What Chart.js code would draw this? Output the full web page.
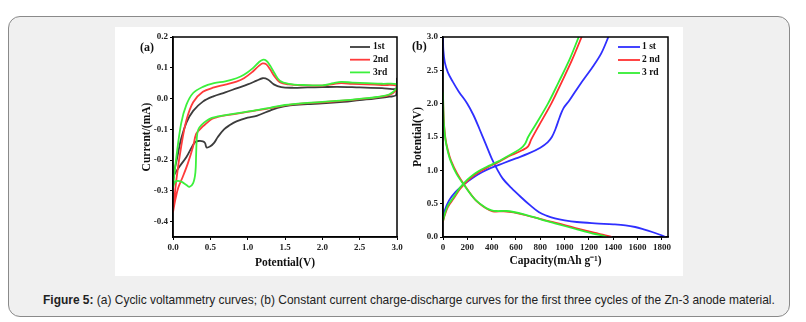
<!DOCTYPE html>
<html>
<head>
<meta charset="utf-8">
<script src="https://cdn.jsdelivr.net/npm/chart.js@4.4.1/dist/chart.umd.min.js"></script>
<style>
  body { margin: 0; background: #fff; width: 806px; height: 322px; overflow: hidden; }
  .figure {
    position: absolute; left: 8px; top: 16px; width: 782px; height: 301px;
    box-sizing: border-box; border: 1px solid #8a8a8a; border-radius: 12px; background: #f0f0f0;
  }
  .plate { position: absolute; left: 115px; top: 27px; width: 568px; height: 249px; background: #fff; }
  canvas { position: absolute; top: 27px; }
  #cv { left: 115px; }
  #gcd { left: 410px; }
  .caption {
    position: absolute; left: 43px; top: 292px; white-space: nowrap;
    font-family: "Liberation Sans", Arial, sans-serif; font-size: 13px; color: #222;
    transform: scaleX(0.92); transform-origin: 0 0;
  }
</style>
</head>
<body>
<div class="figure"></div>
<div class="plate"></div>
<canvas id="cv" width="295" height="249"></canvas>
<canvas id="gcd" width="273" height="249"></canvas>
<div class="caption"><b>Figure 5:</b> (a) Cyclic voltammetry curves; (b) Constant current charge-discharge curves for the first three cycles of the Zn-3 anode material.</div>
<script>
// (a) cyclic voltammetry: [potential V, current mA], anodic sweep 0 -> 3 V then cathodic 3 -> 0 V
const cv1st = [
  [0, -0.253], [0.045, -0.205], [0.11, -0.13], [0.18, -0.078], [0.27, -0.04], [0.4, -0.01],
  [0.54, 0.007], [0.7, 0.02], [0.85, 0.033], [1.0, 0.046], [1.12, 0.058], [1.2, 0.066],
  [1.27, 0.062], [1.35, 0.046], [1.45, 0.037], [1.6, 0.035], [1.8, 0.036], [2.0, 0.037],
  [2.2, 0.038], [2.5, 0.036], [2.8, 0.034], [2.99, 0.033], [3.0, 0.065],
  [2.99, 0.012], [2.9, 0.006], [2.7, 0.0], [2.5, -0.005], [2.28, -0.011], [2.0, -0.016],
  [1.8, -0.018], [1.57, -0.022], [1.4, -0.03], [1.3, -0.039], [1.12, -0.056], [1.0, -0.062],
  [0.85, -0.074], [0.75, -0.088], [0.68, -0.101], [0.6, -0.125], [0.55, -0.144], [0.5, -0.155],
  [0.45, -0.159], [0.43, -0.145], [0.4, -0.139], [0.34, -0.138], [0.3, -0.141], [0.27, -0.15],
  [0.18, -0.19], [0.09, -0.22], [0, -0.253]
];
const cv2nd = [
  [0, -0.37], [0.045, -0.264], [0.11, -0.155], [0.18, -0.07], [0.27, -0.012], [0.4, 0.022],
  [0.55, 0.036], [0.7, 0.045], [0.85, 0.055], [0.95, 0.066], [1.07, 0.088], [1.15, 0.106],
  [1.2, 0.114], [1.25, 0.111], [1.3, 0.095], [1.36, 0.072], [1.43, 0.053], [1.55, 0.046],
  [1.75, 0.043], [2.0, 0.042], [2.15, 0.047], [2.25, 0.05], [2.4, 0.048], [2.6, 0.046],
  [2.8, 0.044], [3.0, 0.042],
  [3.0, 0.03], [2.9, 0.012], [2.73, 0.004], [2.5, -0.002], [2.28, -0.007], [2.0, -0.012],
  [1.8, -0.015], [1.5, -0.022], [1.3, -0.031], [1.16, -0.037], [0.94, -0.046], [0.72, -0.054],
  [0.6, -0.06], [0.52, -0.066], [0.45, -0.08], [0.4, -0.09], [0.36, -0.1], [0.31, -0.115],
  [0.27, -0.155], [0.2, -0.21], [0.13, -0.255], [0.07, -0.29], [0.03, -0.33], [0, -0.37]
];
const cv3rd = [
  [0, -0.29], [0.045, -0.19], [0.11, -0.08], [0.18, -0.02], [0.27, 0.018], [0.4, 0.038],
  [0.55, 0.05], [0.7, 0.056], [0.85, 0.066], [0.95, 0.077], [1.07, 0.099], [1.15, 0.118],
  [1.2, 0.126], [1.25, 0.123], [1.3, 0.107], [1.36, 0.082], [1.43, 0.058], [1.55, 0.048],
  [1.75, 0.044], [2.0, 0.043], [2.15, 0.05], [2.25, 0.054], [2.4, 0.052], [2.6, 0.05],
  [2.8, 0.048], [3.0, 0.047],
  [3.0, 0.035], [2.9, 0.014], [2.73, 0.005], [2.5, -0.001], [2.28, -0.006], [2.0, -0.011],
  [1.8, -0.014], [1.5, -0.021], [1.3, -0.03], [1.16, -0.036], [0.94, -0.045], [0.72, -0.053],
  [0.6, -0.058], [0.52, -0.063], [0.45, -0.072], [0.38, -0.086], [0.34, -0.1], [0.32, -0.125],
  [0.31, -0.18], [0.3, -0.24], [0.27, -0.275], [0.22, -0.287], [0.18, -0.281], [0.11, -0.27],
  [0.05, -0.268], [0.02, -0.275], [0, -0.29]
];

// (b) galvanostatic curves: [capacity mAh/g, potential V]
const dis1st = [
  [0, 3.0], [3, 2.8], [15, 2.62], [40, 2.47], [80, 2.33], [130, 2.18], [200, 2.0], [250, 1.83],
  [300, 1.62], [350, 1.4], [400, 1.18], [450, 1.0], [490, 0.88], [560, 0.74], [640, 0.6],
  [720, 0.47], [790, 0.37], [850, 0.32], [920, 0.28], [1000, 0.25], [1100, 0.225], [1250, 0.205],
  [1400, 0.19], [1500, 0.175], [1580, 0.15], [1650, 0.115], [1720, 0.075], [1790, 0.03], [1830, 0.0]
];
const chg1st = [
  [0, 0.27], [15, 0.4], [50, 0.55], [100, 0.67], [160, 0.77], [240, 0.88], [320, 0.97],
  [400, 1.04], [500, 1.11], [600, 1.18], [700, 1.25], [800, 1.34], [860, 1.42], [895, 1.5],
  [925, 1.62], [960, 1.8], [990, 1.93], [1040, 2.05], [1120, 2.27], [1230, 2.55], [1300, 2.75],
  [1360, 3.0]
];
const dis2nd = [
  [0, 2.15], [3, 1.9], [8, 1.7], [20, 1.48], [40, 1.3], [65, 1.15], [117, 0.95], [187, 0.75],
  [270, 0.55], [354, 0.43], [409, 0.385], [500, 0.385], [580, 0.37], [673, 0.33], [760, 0.29],
  [840, 0.25], [920, 0.215], [1007, 0.175], [1090, 0.135], [1174, 0.095], [1250, 0.06],
  [1313, 0.035], [1390, 0.0]
];
const chg2nd = [
  [0, 0.23], [15, 0.33], [40, 0.45], [89, 0.58], [140, 0.72], [200, 0.84], [260, 0.93],
  [312, 0.99], [380, 1.06], [451, 1.12], [520, 1.19], [590, 1.25], [650, 1.3], [700, 1.36],
  [725, 1.46], [785, 1.66], [890, 2.0], [975, 2.32], [1062, 2.66], [1140, 3.0]
];
const dis3rd = [
  [0, 2.17], [3, 1.9], [8, 1.68], [20, 1.46], [40, 1.28], [65, 1.13], [110, 0.95], [180, 0.76],
  [265, 0.56], [350, 0.44], [400, 0.4], [440, 0.39], [520, 0.39], [580, 0.375], [673, 0.335],
  [760, 0.29], [840, 0.245], [920, 0.205], [1000, 0.165], [1090, 0.12], [1170, 0.08],
  [1250, 0.045], [1310, 0.02], [1350, 0.0]
];
const chg3rd = [
  [0, 0.24], [15, 0.35], [40, 0.47], [89, 0.6], [140, 0.74], [200, 0.86], [260, 0.95],
  [312, 1.01], [380, 1.07], [451, 1.13], [520, 1.2], [590, 1.27], [640, 1.33], [675, 1.4],
  [700, 1.5], [760, 1.68], [863, 2.0], [950, 2.32], [1040, 2.66], [1116, 3.0]
];

const potentialTicks = [0, 0.5, 1.0, 1.5, 2.0, 2.5, 3.0];
const currentTicks = [-0.4, -0.3, -0.2, -0.1, 0.0, 0.1, 0.2];
const capacityTicks = [0, 200, 400, 600, 800, 1000, 1200, 1400, 1600, 1800];
const voltageTicks = [0, 0.5, 1.0, 1.5, 2.0, 2.5, 3.0];
const cvLabels = ['1st', '2nd', '3rd'];
const gcdLabels = ['1 st', '2 nd', '3 rd'];

const SERIF = '"Liberation Serif", "Times New Roman", serif';
const tickFont = { family: SERIF, size: 9, weight: 'bold' };
const titleFont = { family: SERIF, size: 11.5, weight: 'bold' };
const cvColors = ['#3c3c3c', '#ff3b3b', '#3cf03c'];
const gcdColors = ['#2f2fff', '#ff3030', '#33ee33'];

const toPoints = arr => arr.map(([x, y]) => ({ x, y }));

// box around the plot, the inset key and the panel letter
const decorations = {
  id: 'decorations',
  afterDatasetsDraw(chart, args, opts) {
    const { ctx, chartArea: a } = chart;
    ctx.save();
    ctx.strokeStyle = '#000';
    ctx.lineWidth = 1.5;
    ctx.strokeRect(a.left, a.top, a.width, a.height);

    ctx.font = 'bold 9.5px ' + SERIF;
    ctx.textBaseline = 'middle';
    ctx.textAlign = 'left';
    opts.labels.forEach((label, i) => {
      const y = a.top + opts.keyTop + i * opts.keyStep;
      ctx.strokeStyle = opts.colors[i];
      ctx.lineWidth = 1.8;
      ctx.beginPath();
      ctx.moveTo(a.right - opts.keyLine[0], y);
      ctx.lineTo(a.right - opts.keyLine[1], y);
      ctx.stroke();
      ctx.fillStyle = '#111';
      ctx.fillText(label, a.right - opts.keyText, y);
    });

    ctx.font = 'bold 12px ' + SERIF;
    ctx.fillStyle = '#111';
    ctx.fillText(opts.letter, opts.letterX, opts.letterY);
    ctx.restore();
  }
};

function axis(min, max, values, fmt, size, title, titlePad) {
  return {
    type: 'linear', min, max,
    afterBuildTicks: s => { s.ticks = values.map(v => ({ value: v })); },
    afterFit: s => { if (s.isHorizontal()) s.height = size; else s.width = size; },
    ticks: { callback: fmt, font: tickFont, color: '#222', padding: 2, maxRotation: 0, autoSkip: false },
    grid: { drawOnChartArea: false, tickLength: 3, color: '#000', lineWidth: 1 },
    border: { color: '#000', width: 1.5 },
    title: { display: true, text: title, font: titleFont, color: '#111', padding: titlePad }
  };
}

function line(label, data, color, order) {
  return {
    label, data: toPoints(data), borderColor: color, backgroundColor: color,
    borderWidth: 1.8, showLine: true, pointRadius: 0, tension: 0.35, fill: false, order
  };
}

new Chart(document.getElementById('cv'), {
  type: 'scatter',
  data: {
    datasets: [
      line(cvLabels[2], cv3rd, cvColors[2], 1),
      line(cvLabels[1], cv2nd, cvColors[1], 2),
      line(cvLabels[0], cv1st, cvColors[0], 3)
    ]
  },
  options: {
    responsive: false, animation: false, devicePixelRatio: 1,
    layout: { padding: { top: 10, right: 13, left: 0, bottom: 0 } },
    plugins: {
      legend: { display: false }, tooltip: { enabled: false },
      decorations: {
        labels: cvLabels, colors: cvColors, keyTop: 10, keyStep: 12.7,
        keyLine: [47, 27], keyText: 24, letter: '(a)', letterX: 25, letterY: 21
      }
    },
    scales: {
      x: axis(0, 3, potentialTicks, v => v.toFixed(1), 39, 'Potential(V)', { top: 0, bottom: 6 }),
      y: axis(-0.45, 0.2, currentTicks, v => v.toFixed(1), 58, 'Current/(mA)', { top: 25, bottom: 0 })
    }
  },
  plugins: [decorations]
});

new Chart(document.getElementById('gcd'), {
  type: 'scatter',
  data: {
    datasets: [
      line(gcdLabels[2], dis3rd, gcdColors[2], 1),
      line(gcdLabels[2], chg3rd, gcdColors[2], 1),
      line(gcdLabels[1], dis2nd, gcdColors[1], 2),
      line(gcdLabels[1], chg2nd, gcdColors[1], 2),
      line(gcdLabels[0], dis1st, gcdColors[0], 3),
      line(gcdLabels[0], chg1st, gcdColors[0], 3)
    ]
  },
  options: {
    responsive: false, animation: false, devicePixelRatio: 1,
    layout: { padding: { top: 10, right: 15, left: 0, bottom: 0 } },
    plugins: {
      legend: { display: false }, tooltip: { enabled: false },
      decorations: {
        labels: gcdLabels, colors: gcdColors, keyTop: 10, keyStep: 13,
        keyLine: [50, 28], keyText: 26, letter: '(b)', letterX: 2, letterY: 20
      }
    },
    scales: {
      x: axis(0, 1850, capacityTicks, v => String(v), 39, 'Capacity(mAh g\u207B\u00B9)', { top: 0, bottom: 8 }),
      y: axis(0, 3, voltageTicks, v => v.toFixed(1), 33, 'Potential(V)', { top: 1, bottom: 0 })
    }
  },
  plugins: [decorations]
});
</script>
</body>
</html>
